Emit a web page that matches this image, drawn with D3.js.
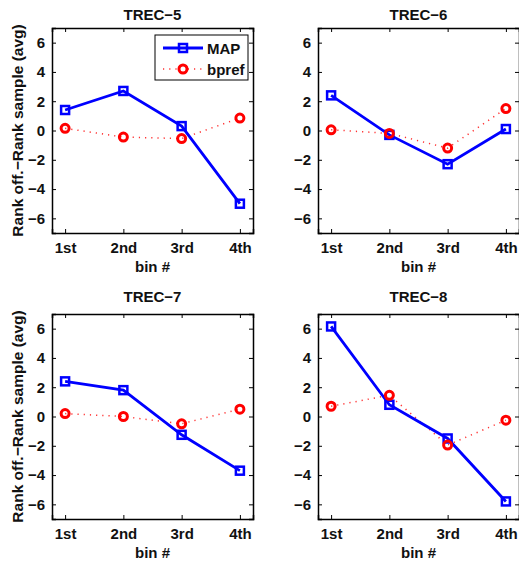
<!DOCTYPE html>
<html>
<head>
<meta charset="utf-8">
<script src="https://cdn.jsdelivr.net/npm/d3@7"></script>
<style>
  body { margin: 0; background: #fff; }
  text { font-family: "Liberation Sans Narrow", "Liberation Sans", Arial, sans-serif; font-weight: bold; fill: #111; }
  text.ylab { font-family: "Liberation Sans", Arial, sans-serif; }
</style>
</head>
<body>
<svg id="chart" width="519" height="564"></svg>
<script>
// data
const bins = ["1st", "2nd", "3rd", "4th"];
const titles = ["TREC\u22125", "TREC\u22126", "TREC\u22127", "TREC\u22128"];
const mapValues = [
  [1.4, 2.7, 0.3, -5.0],
  [2.4, -0.3, -2.3, 0.1],
  [2.4, 1.8, -1.25, -3.7],
  [6.15, 0.8, -1.5, -5.8]
];
const bprefValues = [
  [0.15, -0.45, -0.55, 0.85],
  [0.05, -0.2, -1.2, 1.5],
  [0.2, 0.0, -0.5, 0.5],
  [0.7, 1.45, -1.95, -0.25]
];
const yTicks = [-6, -4, -2, 0, 2, 4, 6];

const svg = d3.select("#chart");
const W = 201, H = 205;
const origins = [[52, 28], [318, 28], [52, 314], [318, 314]];
const titleGap = [8, 8, 12, 12];

const fmt = d => d < 0 ? "\u2212" + Math.abs(d) : String(d);

const x = d3.scaleLinear().domain([0.775, 4.225]).range([0, W]);
const y = d3.scaleLinear().domain([-7, 7]).range([H, 0]);

titles.forEach((title, k) => {
  const [ox, oy] = origins[k];
  const g = svg.append("g").attr("transform", `translate(${ox},${oy})`);

  // axes with inward ticks, mirrored
  const yl = g.append("g").call(d3.axisLeft(y).tickValues(yTicks).tickSize(-4).tickPadding(7).tickFormat(fmt));
  const yr = g.append("g").attr("transform", `translate(${W},0)`)
    .call(d3.axisRight(y).tickValues(yTicks).tickSize(-4).tickFormat(""));
  const xb = g.append("g").attr("transform", `translate(0,${H})`)
    .call(d3.axisBottom(x).tickValues([1, 2, 3, 4]).tickSize(-4).tickPadding(9).tickFormat(d => bins[d - 1]));
  const xt = g.append("g")
    .call(d3.axisTop(x).tickValues([1, 2, 3, 4]).tickSize(-4).tickFormat(""));
  [yl, yr, xb, xt].forEach(a => {
    a.select(".domain").attr("stroke", "#000").attr("stroke-width", 1.5);
    a.selectAll(".tick line").attr("stroke", "#000");
    a.selectAll("text").style("font-size", "15px").attr("fill", "#111");
  });

  g.append("text").attr("x", W / 2).attr("y", -titleGap[k]).attr("text-anchor", "middle")
    .style("font-size", "15px").text(title);
  g.append("text").attr("x", W / 2).attr("y", H + 39).attr("text-anchor", "middle")
    .style("font-size", "15px").text("bin #");
  if (k % 2 === 0) {
    g.append("text").attr("class", "ylab")
      .attr("transform", `translate(-29,${H / 2}) rotate(-90)`)
      .attr("text-anchor", "middle").style("font-size", "15.5px")
      .text("Rank off.\u2212Rank sample (avg)");
  }

  const line = d3.line().x((d, i) => x(i + 1)).y(d => y(d));

  // bpref
  g.append("path").datum(bprefValues[k]).attr("d", line)
    .attr("fill", "none").attr("stroke", "#ff3030").attr("stroke-width", 1.5)
    .attr("stroke-dasharray", "1.2,5");
  // MAP
  g.append("path").datum(mapValues[k]).attr("d", line)
    .attr("fill", "none").attr("stroke", "#0000ff").attr("stroke-width", 2.8);
  g.selectAll(".sq").data(mapValues[k]).enter().append("rect")
    .attr("x", (d, i) => x(i + 1) - 4).attr("y", d => y(d) - 4)
    .attr("width", 8).attr("height", 8)
    .attr("fill", "none").attr("stroke", "#0000ff").attr("stroke-width", 2.5);
  g.selectAll(".ci").data(bprefValues[k]).enter().append("circle")
    .attr("cx", (d, i) => x(i + 1)).attr("cy", d => y(d)).attr("r", 4)
    .attr("fill", "none").attr("stroke", "#ff0000").attr("stroke-width", 3);

  // legend in first panel
  if (k === 0) {
    const lg = g.append("g").attr("transform", "translate(103,7)");
    lg.append("rect").attr("width", 93).attr("height", 45)
      .attr("fill", "#fff").attr("stroke", "#000").attr("stroke-width", 1);
    lg.append("line").attr("x1", 8).attr("x2", 48).attr("y1", 13).attr("y2", 13)
      .attr("stroke", "#0000ff").attr("stroke-width", 2.8);
    lg.append("rect").attr("x", 24).attr("y", 9).attr("width", 8).attr("height", 8)
      .attr("fill", "none").attr("stroke", "#0000ff").attr("stroke-width", 2.5);
    lg.append("text").attr("x", 52).attr("y", 18.5).style("font-size", "15px").text("MAP");
    lg.append("line").attr("x1", 8).attr("x2", 48).attr("y1", 34).attr("y2", 34)
      .attr("stroke", "#ff3030").attr("stroke-width", 1.5).attr("stroke-dasharray", "1.2,5");
    lg.append("circle").attr("cx", 28).attr("cy", 34).attr("r", 4)
      .attr("fill", "#fff").attr("stroke", "#ff0000").attr("stroke-width", 3);
    lg.append("text").attr("x", 52).attr("y", 39.5).style("font-size", "15px").text("bpref");
  }
});
</script>
</body>
</html>
